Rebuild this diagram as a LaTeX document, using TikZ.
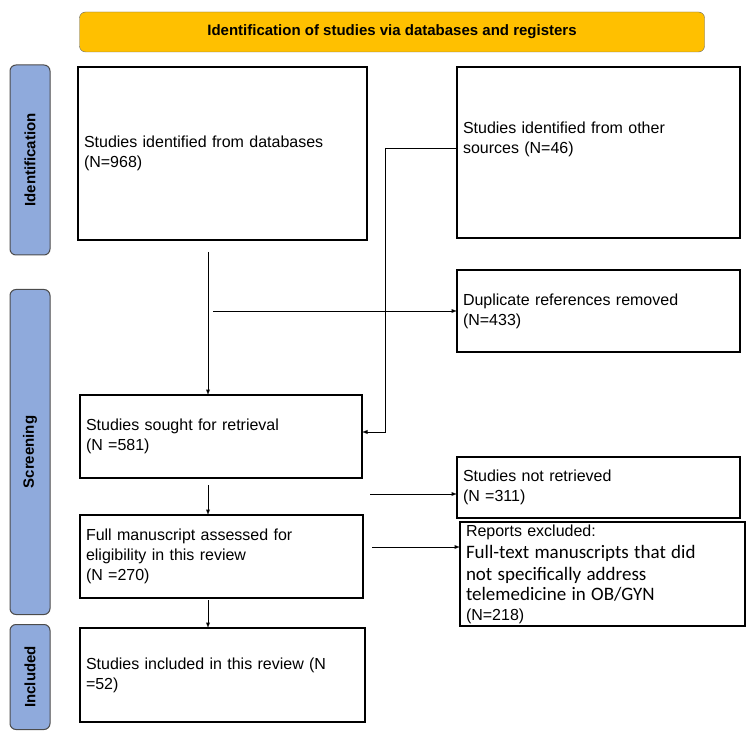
\documentclass[tikz,border=0pt]{standalone}
\usepackage{fontspec}
\setmainfont{Liberation Sans}
\newfontfamily\calib{Carlito}
\definecolor{gold}{HTML}{FFC000}
\definecolor{sideblue}{HTML}{8FAADC}
\begin{document}
\begin{tikzpicture}[x=1pt,y=-1pt,inner sep=0pt,outer sep=0pt,
  box/.style={draw,line width=1.2pt,anchor=north west,align=left,text width=#1,inner xsep=6pt},
  side/.style={draw=black!70,line width=1pt,fill=sideblue,rounded corners=6pt,rotate=90,minimum height=40pt,font=\bfseries\fontsize{15}{17}\selectfont},
  arr/.style={-latex,line width=0.9pt}]
\useasboundingbox (0,0) rectangle (750,743);
\node[draw=black!60,fill=gold,rounded corners=6pt,minimum width=625pt,minimum height=40pt,font=\bfseries\fontsize{15}{17}\selectfont] (banner) at (392,32) {Identification of studies via databases and registers};
\node[side,minimum width=190pt] (sid) at (30,160) {Identification};
\node[side,minimum width=325pt] (sscr) at (30,452) {Screening};
\node[side,minimum width=105pt] (sinc) at (30,677) {Included};
\begin{scope}[font=\fontsize{16}{20}\selectfont]
\node[box=277pt,minimum height=173pt] (db) at (78,67) {Studies identified from databases\\(N=968)};
\node[box=271pt,minimum height=171pt,text depth=50pt] (other) at (457,67) {Studies identified from other\\sources (N=46)};
\node[box=271pt,minimum height=82pt] (dup) at (457,270) {Duplicate references removed\\(N=433)};
\node[box=270pt,minimum height=83pt] (sought) at (80,395) {Studies sought for retrieval\\(N =581)};
\node[box=271pt,minimum height=61pt] (notret) at (457,457) {Studies not retrieved\\(N =311)};
\node[box=271pt,minimum height=83pt] (full) at (80,515) {Full manuscript assessed for\\eligibility in this review\\(N =270)};
\node[box=273pt,minimum height=104pt] (excl) at (460,522) {Reports excluded:\\{\calib\fontsize{19}{22}\selectfont Full-text manuscripts that did\\not specifically address\\telemedicine in OB/GYN}\\(N=218)};
\node[box=273pt,minimum height=94pt] (incl) at (80,628) {Studies included in this review (N\\=52)};
\end{scope}
\coordinate (a1) at (208,252);
\coordinate (a2) at (213,311);
\coordinate (b1) at (385,148);
\coordinate (b2) at (385,432);
\coordinate (c0) at (208,485);
\coordinate (c1) at (370,494);
\coordinate (d0) at (208,600);
\coordinate (d1) at (372,547);
\draw[arr] (a1) -- (a1 |- sought.north);
\draw[arr] (a2) -- (a2 -| dup.west);
\draw[line width=0.9pt] (other.west |- b1) -- (b1);
\draw[arr] (b1) -- (b2) -- (b2 -| sought.east);
\draw[arr] (c0) -- (c0 |- full.north);
\draw[arr] (c1) -- (c1 -| notret.west);
\draw[arr] (d0) -- (d0 |- incl.north);
\draw[arr] (d1) -- (d1 -| excl.west);
\end{tikzpicture}
\end{document}
